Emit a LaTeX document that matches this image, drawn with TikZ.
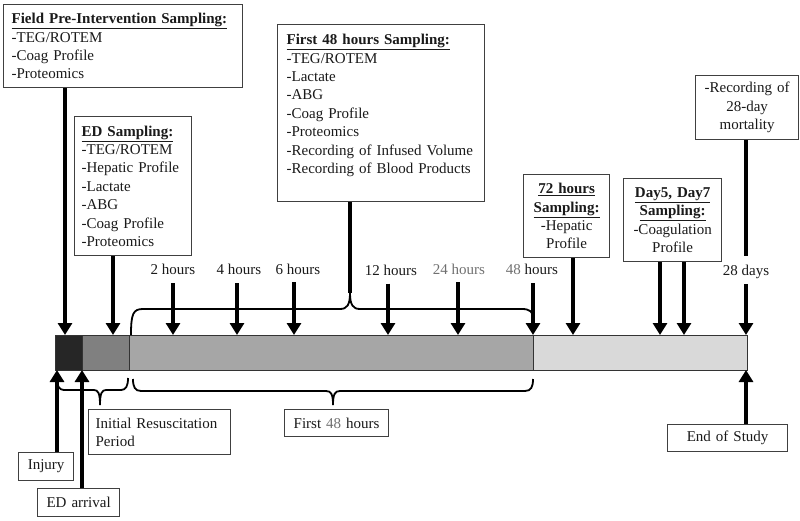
\documentclass[tikz,border=0pt]{standalone}
\usepackage{fontspec}
\setmainfont{Liberation Serif}
\usetikzlibrary{arrows.meta}
\definecolor{txt}{HTML}{1A1A1A}
\definecolor{lgt}{HTML}{707070}
\definecolor{boxc}{HTML}{404040}
\definecolor{bard}{HTML}{333333}
\definecolor{segA}{HTML}{262626}
\definecolor{segB}{HTML}{808080}
\definecolor{segC}{HTML}{A6A6A6}
\definecolor{segD}{HTML}{D9D9D9}
\begin{document}
\begin{tikzpicture}[x=1pt,y=-1pt,
  every node/.style={font=\fontsize{15}{18.4}\selectfont, text=txt},
  box/.style={draw=boxc, line width=1.3pt, inner ysep=0pt, anchor=north west, fill=white},
  arr/.style={draw=black, line width=4pt, -{Triangle[width=14pt,length=12pt]}},
  thickline/.style={draw=black, line width=4pt},
  brc/.style={draw=black, line width=1.8pt},
  seg/.style={draw=bard, line width=1pt, anchor=north west, minimum height=35pt, inner sep=0pt},
  lbl/.style={inner xsep=1pt, inner ysep=5pt, text height=10pt, text depth=3pt}]
\useasboundingbox (0,0) rectangle (800,521);

% timeline bar
\node[seg, fill=segA, minimum width=27pt] (s1) at (55,335) {};
\node[seg, fill=segB, minimum width=47pt] (s2) at (82,335) {};
\node[seg, fill=segC, minimum width=404pt] (s3) at (129,335) {};
\node[seg, fill=segD, minimum width=214pt] (s4) at (533,335) {};

% coordinates on the bar
\coordinate (cF) at (65,335);
\coordinate (cE) at (113,335);
\coordinate (b2) at (173,335);
\coordinate (b4) at (237,335);
\coordinate (b6) at (294,335);
\coordinate (b12) at (388,335);
\coordinate (b24) at (458,335);
\coordinate (b48) at (533,335);
\coordinate (b72) at (573,335);
\coordinate (bd5) at (660,335);
\coordinate (bd7) at (684,335);
\coordinate (b28) at (746,335);
\coordinate (cI) at (57,370);
\coordinate (cA) at (82,370);
\coordinate (cS) at (746,370);
\coordinate (c28top) at (746,256);
\coordinate (tip) at (350,293);

% braces
\draw[brc] (131,335) .. controls (131,314) and (133,309) .. (143,309) -- (340,309) .. controls (347,309) and (350,305) .. (tip);
\draw[brc] (tip) .. controls (350,305) and (353,309) .. (360,309) -- (522,309) .. controls (530,309) and (533,312) .. (533,318);
\draw[brc] (57,378) .. controls (57,386) and (59,390) .. (64,390) -- (94,390) .. controls (98,390) and (100,393) .. (100,405);
\draw[brc] (100,405) .. controls (100,393) and (102,390) .. (106,390) -- (121,390) .. controls (126,390) and (128,386) .. (128,378);
\draw[brc] (133,379) .. controls (133,387) and (135,391) .. (141,391) -- (326,391) .. controls (331,391) and (333,394) .. (333,405);
\draw[brc] (333,405) .. controls (333,394) and (335,391) .. (340,391) -- (525,391) .. controls (531,391) and (533,387) .. (533,379);

% top boxes
\node[box, inner xsep=8pt, text width=223pt, minimum height=83pt, align=left] (field) at (3,4)
  {\underline{\textbf{Field Pre-Intervention Sampling:}}\\-TEG/ROTEM\\-Coag Profile\\-Proteomics};
\node[box, inner xsep=7pt, text width=103pt, minimum height=139pt, align=left] (ed) at (74,116)
  {\underline{\textbf{ED Sampling:}}\\-TEG/ROTEM\\-Hepatic Profile\\-Lactate\\-ABG\\-Coag Profile\\-Proteomics};
\node[box, inner xsep=9pt, text width=189pt, minimum height=177pt, align=left] (f48) at (277,24)
  {\underline{\textbf{First 48 hours Sampling:}}\\-TEG/ROTEM\\-Lactate\\-ABG\\-Coag Profile\\-Proteomics\\-Recording of Infused Volume\\-Recording of Blood Products\\\mbox{}};
\node[box, inner xsep=3pt, text width=80pt, minimum height=83pt, align=center] (h72) at (523,174)
  {\underline{\textbf{72 hours}}\\\underline{\textbf{Sampling:}}\\-Hepatic\\Profile};
\node[box, inner xsep=3pt, text width=92pt, minimum height=83pt, align=center] (d57) at (623,178)
  {\underline{\textbf{Day5, Day7}}\\\underline{\textbf{Sampling:}}\\-Coagulation\\Profile};
\node[box, inner xsep=3pt, text width=97pt, minimum height=64pt, align=center] (rec) at (695,75)
  {-Recording of\\28-day\\mortality};

% bottom boxes
\node[box, inner xsep=3pt, text width=49pt, minimum height=28pt, align=center] (inj) at (18,452) {Injury};
\node[box, inner xsep=3pt, text width=76pt, minimum height=28pt, align=center] (edarr) at (37,488) {ED arrival};
\node[box, inner xsep=7pt, text width=128pt, minimum height=45pt, align=left] (init) at (88,409) {Initial Resuscitation\\Period};
\node[box, inner xsep=3pt, text width=98pt, minimum height=27pt, align=center] (first) at (284,409) {First {\color{lgt}48} hours};
\node[box, inner xsep=3pt, text width=114pt, minimum height=27pt, align=center] (end) at (667,424) {End of Study};

% time labels
\node[lbl] (h2) at (173,271.5) {2 hours};
\node[lbl] (h4) at (239,271.5) {4 hours};
\node[lbl] (h6) at (298,270.5) {6 hours};
\node[lbl] (h12) at (391,272) {12 hours};
\node[lbl, text=lgt] (h24) at (459,270.5) {24 hours};
\node[lbl] (h48) at (532,271.5) {{\color{lgt}48} hours};
\node[lbl] (d28) at (746,272.5) {28 days};

% arrows from top
\draw[arr] (field.south -| cF) -- (cF);
\draw[arr] (ed.south -| cE) -- (cE);
\draw[thickline] (f48.south -| tip) -- (tip);
\draw[arr] (h2.south -| b2) -- (b2);
\draw[arr] (h4.south -| b4) -- (b4);
\draw[arr] (h6.south -| b6) -- (b6);
\draw[arr] (h12.south -| b12) -- (b12);
\draw[arr] (h24.south -| b24) -- (b24);
\draw[arr] (h48.south -| b48) -- (b48);
\draw[arr] (h72.south -| b72) -- (b72);
\draw[arr] (d57.south -| bd5) -- (bd5);
\draw[arr] (d57.south -| bd7) -- (bd7);
\draw[thickline] (rec.south -| c28top) -- (c28top);
\draw[arr] (d28.south -| b28) -- (b28);

% arrows from bottom
\draw[arr] (inj.north -| cI) -- (cI);
\draw[arr] (edarr.north -| cA) -- (cA);
\draw[arr] (end.north -| cS) -- (cS);
\end{tikzpicture}
\end{document}
